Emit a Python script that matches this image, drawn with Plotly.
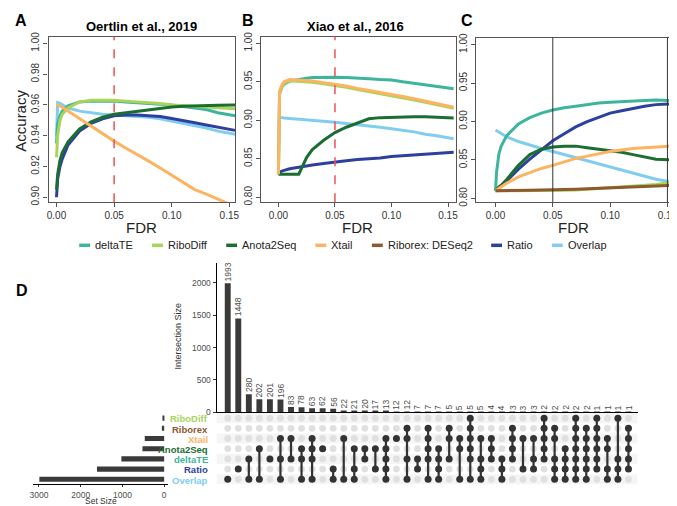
import plotly.graph_objects as go

W, H = 677, 506
FONT = "Liberation Sans, Arial, sans-serif"

# ---------------- data: accuracy vs FDR ----------------
methods = ["deltaTE", "RiboDiff", "Anota2Seq", "Xtail", "Riborex: DESeq2", "Ratio", "Overlap"]
method_colors = ["#3db59c", "#a8d45a", "#1b6e32", "#fdb462", "#8c5a2e", "#2d40a0", "#80cdf0"]

fdr_a = [0, 0.001, 0.003, 0.005, 0.01, 0.02, 0.03, 0.04, 0.05, 0.06, 0.07, 0.08, 0.09, 0.10, 0.11, 0.12, 0.13, 0.14, 0.155]
acc_a_deltaTE = [0.935, 0.948, 0.953, 0.956, 0.9595, 0.962, 0.9625, 0.9625, 0.9625, 0.962, 0.9615, 0.961, 0.9605, 0.960, 0.959, 0.958, 0.957, 0.955, 0.953]
acc_a_RiboDiff = [0.926, 0.940, 0.950, 0.954, 0.958, 0.962, 0.963, 0.963, 0.963, 0.9625, 0.962, 0.9615, 0.961, 0.960, 0.9595, 0.959, 0.9585, 0.958, 0.9575]
acc_a_Anota2Seq = [0.905, 0.915, 0.924, 0.929, 0.936, 0.9445, 0.949, 0.952, 0.954, 0.955, 0.956, 0.957, 0.958, 0.9587, 0.9592, 0.9595, 0.9597, 0.9598, 0.960]
acc_a_Xtail = [0.960, 0.960, 0.9595, 0.9585, 0.956, 0.951, 0.946, 0.941, 0.9365, 0.932, 0.928, 0.9235, 0.919, 0.9145, 0.910, 0.905, 0.902, 0.899, 0.894]
acc_a_Ratio = [0.900, 0.912, 0.920, 0.925, 0.934, 0.943, 0.948, 0.951, 0.953, 0.9535, 0.9535, 0.953, 0.9525, 0.9512, 0.950, 0.9485, 0.947, 0.9455, 0.9435]
acc_a_Overlap = [0.940, 0.9615, 0.961, 0.960, 0.958, 0.956, 0.955, 0.954, 0.9535, 0.953, 0.9525, 0.952, 0.951, 0.9495, 0.948, 0.9465, 0.945, 0.943, 0.941]

fdr_b = [0, 0.001, 0.003, 0.005, 0.01, 0.018, 0.025, 0.03, 0.04, 0.05, 0.06, 0.07, 0.08, 0.09, 0.10, 0.11, 0.12, 0.13, 0.14, 0.155]
acc_b_deltaTE = [0.83, 0.935, 0.943, 0.947, 0.951, 0.9535, 0.9548, 0.9555, 0.956, 0.956, 0.9555, 0.955, 0.954, 0.953, 0.9525, 0.950, 0.948, 0.946, 0.944, 0.941]
acc_b_RiboDiff = [0.83, 0.934, 0.944, 0.948, 0.9515, 0.951, 0.9505, 0.9495, 0.9475, 0.9455, 0.943, 0.940, 0.9375, 0.9345, 0.932, 0.9295, 0.9265, 0.9235, 0.9205, 0.9155]
acc_b_Anota2Seq = [0.83, 0.83, 0.83, 0.83, 0.83, 0.83, 0.852, 0.862, 0.874, 0.884, 0.891, 0.897, 0.902, 0.9035, 0.904, 0.9045, 0.9047, 0.9045, 0.904, 0.903]
acc_b_Xtail = [0.83, 0.938, 0.946, 0.950, 0.953, 0.9525, 0.952, 0.951, 0.949, 0.947, 0.9445, 0.9415, 0.939, 0.936, 0.9335, 0.931, 0.928, 0.925, 0.922, 0.917]
acc_b_Ratio = [0.832, 0.833, 0.834, 0.835, 0.837, 0.839, 0.841, 0.842, 0.844, 0.846, 0.8475, 0.849, 0.850, 0.851, 0.853, 0.854, 0.855, 0.856, 0.857, 0.8585]
acc_b_Overlap = [0.904, 0.904, 0.9035, 0.903, 0.9025, 0.9013, 0.9005, 0.900, 0.899, 0.8975, 0.896, 0.8945, 0.893, 0.891, 0.889, 0.887, 0.885, 0.882, 0.880, 0.876]

fdr_c = [0, 0.001, 0.003, 0.005, 0.01, 0.02, 0.03, 0.04, 0.05, 0.06, 0.07, 0.08, 0.09, 0.10, 0.11, 0.12, 0.13, 0.14, 0.155]
acc_c_deltaTE = [0.81, 0.835, 0.858, 0.868, 0.882, 0.897, 0.905, 0.911, 0.915, 0.918, 0.920, 0.922, 0.924, 0.925, 0.926, 0.927, 0.9275, 0.928, 0.927]
acc_c_RiboDiff = [0.81, 0.81, 0.81, 0.81, 0.81, 0.81, 0.81, 0.81, 0.81, 0.8105, 0.811, 0.812, 0.813, 0.814, 0.815, 0.816, 0.817, 0.818, 0.821]
acc_c_Anota2Seq = [0.81, 0.812, 0.815, 0.817, 0.825, 0.843, 0.857, 0.864, 0.867, 0.868, 0.868, 0.866, 0.864, 0.862, 0.860, 0.857, 0.854, 0.851, 0.850]
acc_c_Xtail = [0.81, 0.811, 0.813, 0.815, 0.820, 0.828, 0.834, 0.839, 0.843, 0.848, 0.852, 0.855, 0.858, 0.861, 0.863, 0.865, 0.866, 0.867, 0.868]
acc_c_Riborex = [0.81, 0.81, 0.81, 0.81, 0.81, 0.8105, 0.8105, 0.811, 0.811, 0.8115, 0.812, 0.8125, 0.813, 0.813, 0.814, 0.8145, 0.815, 0.816, 0.817]
acc_c_Ratio = [0.81, 0.811, 0.814, 0.816, 0.823, 0.838, 0.851, 0.863, 0.875, 0.884, 0.893, 0.900, 0.906, 0.911, 0.914, 0.917, 0.920, 0.922, 0.923]
acc_c_Overlap = [0.889, 0.888, 0.886, 0.884, 0.880, 0.874, 0.869, 0.865, 0.861, 0.857, 0.853, 0.849, 0.845, 0.841, 0.837, 0.833, 0.829, 0.825, 0.821]

panel_titles = ["Oertlin et al., 2019", "Xiao et al., 2016", ""]

# ---------------- data: UpSet ----------------
set_names = ["RiboDiff", "Riborex", "Xtail", "Anota2Seq", "deltaTE", "Ratio", "Overlap"]
set_colors = ["#a8d45a", "#8c5a2e", "#fdb462", "#1b6e32", "#3db59c", "#2d40a0", "#80cdf0"]
set_sizes = [25, 55, 465, 520, 1025, 1610, 2990]

intersection_sizes = [1993, 1448, 280, 202, 201, 196, 83, 78, 63, 62, 56, 22, 21, 20, 17, 13, 12, 12,
                      7, 7, 7, 5, 5, 5, 5, 4, 4, 3, 3, 3, 2, 2, 2, 2, 2, 1, 1, 1, 1]
intersection_members = [
    [6], [5], [4, 6], [3, 6], [4], [2, 4, 6], [2, 4], [3, 4, 6], [2, 3, 4, 6], [3], [5, 6], [2, 6],
    [3, 5, 6], [3, 4], [3, 5], [2, 3, 4, 5, 6], [2], [1, 2, 4, 6], [4, 5], [1, 2, 3, 4, 6], [3, 4, 5, 6],
    [1, 2, 4], [2, 3, 6], [0, 1, 2, 3, 4, 6], [2, 4, 5, 6], [2, 3, 4], [4, 5, 6], [1, 2, 3, 4], [2, 5],
    [2, 4, 5], [0, 1, 2, 3, 4], [1, 2, 4, 5, 6], [3, 4, 5, 6], [0, 1, 2, 3, 4, 5, 6], [1, 2, 3, 4, 5, 6],
    [0, 1, 2, 3, 4, 5], [2, 3, 5, 6], [0, 4, 5, 6], [1, 2, 3, 4, 5],
]

# ---------------- helpers ----------------
def fx(p):
    return p / W

def fy(p):
    return 1 - p / H

fig = go.Figure()

panels = [
    ("x", "y", fdr_a, {"deltaTE": acc_a_deltaTE, "RiboDiff": acc_a_RiboDiff, "Anota2Seq": acc_a_Anota2Seq,
                       "Xtail": acc_a_Xtail, "Ratio": acc_a_Ratio, "Overlap": acc_a_Overlap}),
    ("x2", "y2", fdr_b, {"deltaTE": acc_b_deltaTE, "RiboDiff": acc_b_RiboDiff, "Anota2Seq": acc_b_Anota2Seq,
                         "Xtail": acc_b_Xtail, "Ratio": acc_b_Ratio, "Overlap": acc_b_Overlap}),
    ("x3", "y3", fdr_c, {"deltaTE": acc_c_deltaTE, "RiboDiff": acc_c_RiboDiff, "Anota2Seq": acc_c_Anota2Seq,
                         "Xtail": acc_c_Xtail, "Riborex: DESeq2": acc_c_Riborex, "Ratio": acc_c_Ratio,
                         "Overlap": acc_c_Overlap}),
]
draw_order = ["Overlap", "Ratio", "deltaTE", "RiboDiff", "Anota2Seq", "Xtail", "Riborex: DESeq2"]
for xa, ya, xs, series in panels:
    for m in draw_order:
        if m not in series:
            continue
        fig.add_trace(go.Scatter(x=xs, y=series[m], mode="lines", xaxis=xa, yaxis=ya,
                                 line=dict(color=method_colors[methods.index(m)], width=3),
                                 showlegend=False, hoverinfo="skip"))

# UpSet intersection bars
n_cols = len(intersection_sizes)
col_idx = list(range(n_cols))
fig.add_trace(go.Bar(x=col_idx, y=intersection_sizes, width=0.56, xaxis="x4", yaxis="y4",
                     marker=dict(color="#3a3a3a", line=dict(width=0)),
                     showlegend=False, hoverinfo="skip"))

# Matrix
gx, gy, mx, my, lx, ly = [], [], [], [], [], []
for ci, mem in enumerate(intersection_members):
    for r in range(len(set_names)):
        if r in mem:
            mx.append(ci); my.append(r)
        else:
            gx.append(ci); gy.append(r)
    if len(mem) > 1:
        lx += [ci, ci, None]; ly += [min(mem), max(mem), None]
fig.add_trace(go.Scatter(x=gx, y=gy, mode="markers", xaxis="x5", yaxis="y5",
                         marker=dict(size=6.8, color="#e0e0e0"), showlegend=False, hoverinfo="skip"))
fig.add_trace(go.Scatter(x=lx, y=ly, mode="lines", xaxis="x5", yaxis="y5",
                         line=dict(color="#333333", width=2.2), showlegend=False, hoverinfo="skip"))
fig.add_trace(go.Scatter(x=mx, y=my, mode="markers", xaxis="x5", yaxis="y5",
                         marker=dict(size=7, color="#333333"), showlegend=False, hoverinfo="skip"))

# Set size bars
fig.add_trace(go.Bar(x=set_sizes, y=list(range(len(set_names))), orientation="h", width=0.5,
                     xaxis="x6", yaxis="y6", marker=dict(color="#3a3a3a", line=dict(width=0)),
                     showlegend=False, hoverinfo="skip"))

# ---------------- axes ----------------
tickfont = dict(size=10, color="#333333", family=FONT)
common_line = dict(showline=True, linecolor="#555555", linewidth=1.2, mirror=True, ticks="outside",
                   ticklen=4, tickcolor="#555555", showgrid=False, zeroline=False, tickfont=tickfont)
fdr_ticks = dict(tickvals=[0, 0.05, 0.10, 0.15], ticktext=["0.00", "0.05", "0.10", "0.15"])

layout = dict(
    width=W, height=H, margin=dict(l=0, r=0, t=0, b=0),
    paper_bgcolor="white", plot_bgcolor="white", font=dict(family=FONT),
    showlegend=False,
    xaxis=dict(domain=[fx(37), fx(226)], range=[-0.0069, 0.1552], anchor="y", **fdr_ticks, **common_line),
    yaxis=dict(domain=[fy(193), fy(24)], range=[0.8968, 1.0045], anchor="x",
               tickvals=[0.90, 0.92, 0.94, 0.96, 0.98, 1.00], ticktext=["0.90", "0.92", "0.94", "0.96", "0.98", "1.00"],
               tickangle=-90, **common_line),
    xaxis2=dict(domain=[fx(252), fx(449)], range=[-0.0154, 0.1568], anchor="y2", **fdr_ticks, **common_line),
    yaxis2=dict(domain=[fy(193), fy(24)], range=[0.7936, 1.0089], anchor="x2",
                tickvals=[0.80, 0.85, 0.90, 0.95, 1.00], ticktext=["0.80", "0.85", "0.90", "0.95", "1.00"],
                tickangle=-90, **common_line),
    xaxis3=dict(domain=[fx(470), fx(670)], range=[-0.0166, 0.1558], anchor="y3", **fdr_ticks, **common_line),
    yaxis3=dict(domain=[fy(193), fy(25)], range=[0.7951, 1.0093], anchor="x3",
                tickvals=[0.80, 0.85, 0.90, 0.95, 1.00], ticktext=["0.80", "0.85", "0.90", "0.95", "1.00"],
                tickangle=-90, **common_line),
    xaxis4=dict(domain=[fx(207), fx(633)], range=[-1.06, n_cols - 0.14], anchor="y4", showline=True,
                linecolor="#000000", linewidth=1.2, showticklabels=False, ticks="", showgrid=False, zeroline=False),
    yaxis4=dict(domain=[fy(407.3), fy(255.5)], range=[0, 2300], anchor="x4", showline=True,
                linecolor="#000000", linewidth=1, ticks="outside", ticklen=3, tickcolor="#333333",
                tickvals=[0, 500, 1000, 1500, 2000], showgrid=False, zeroline=False,
                tickfont=dict(size=8.5, color="#4d4d4d", family=FONT)),
    xaxis5=dict(domain=[fx(207), fx(633)], range=[-1.06, n_cols - 0.14], anchor="y5", visible=False),
    yaxis5=dict(domain=[fy(480.9), fy(408.1)], range=[6.5, -0.5], anchor="x5", visible=False),
    xaxis6=dict(domain=[fx(21.7), fx(158.3)], range=[3132, -102], anchor="y6", showline=True,
                linecolor="#000000", linewidth=1, ticks="outside", ticklen=2, tickcolor="#333333",
                tickvals=[0, 1000, 2000, 3000], showgrid=False, zeroline=False,
                tickfont=dict(size=8.5, color="#4d4d4d", family=FONT)),
    yaxis6=dict(domain=[fy(480.9), fy(408.1)], range=[6.5, -0.5], anchor="x6", visible=False),
)
fig.update_layout(**layout)

shapes = []
# row shading in matrix
for r in [0, 2, 4, 6]:
    shapes.append(dict(type="rect", xref="x5", yref="y5", x0=-1.06, x1=n_cols - 0.14, y0=r - 0.5, y1=r + 0.5,
                       fillcolor="rgba(225,225,225,0.35)", line=dict(width=0), layer="below"))
# FDR reference lines
shapes.append(dict(type="line", xref="x", yref="y domain", x0=0.05, x1=0.05, y0=0, y1=1,
                   line=dict(color="#f0504f", width=1.5, dash="dash")))
shapes.append(dict(type="line", xref="x2", yref="y2 domain", x0=0.05, x1=0.05, y0=0, y1=1,
                   line=dict(color="#f0504f", width=1.5, dash="dash")))
for v in [0.05, 0.15]:
    shapes.append(dict(type="line", xref="x3", yref="y3 domain", x0=v, x1=v, y0=0, y1=1,
                       line=dict(color="#333333", width=1)))

annotations = []
def ann(text, x, y, size, color="#000000", xanchor="center", yanchor="middle", angle=0):
    annotations.append(dict(text=text, x=fx(x), y=fy(y), xref="paper", yref="paper", showarrow=False,
                            font=dict(size=size, color=color, family=FONT), xanchor=xanchor,
                            yanchor=yanchor, textangle=angle, borderpad=0))

# bar value labels (rotated), positioned on the bar axes
for ci, v in zip(col_idx, intersection_sizes):
    annotations.append(dict(text=str(v), x=ci, y=v, xref="x4", yref="y4", showarrow=False,
                            textangle=-90, xanchor="center", yanchor="bottom", yshift=1, borderpad=0,
                            font=dict(size=8.5, color="#4d4d4d", family=FONT)))

# legend (manual)
legend_items = [(68, 83), (141.7, 156.7), (216.8, 231.8), (307, 322), (364.2, 379.2), (484.9, 499.9), (546.3, 561.3)]
for (x0, tx), m, c in zip(legend_items, methods, method_colors):
    shapes.append(dict(type="line", xref="paper", yref="paper", x0=fx(x0), x1=fx(x0 + 11),
                       y0=fy(237), y1=fy(237), line=dict(color=c, width=3.5)))
    ann(m, tx, 237, 11, "#222222", xanchor="left")

# panel letters & titles
ann("<b>A</b>", 2, 8, 16, xanchor="left")
ann("<b>B</b>", 232, 8, 16, xanchor="left")
ann("<b>C</b>", 453, 8, 16, xanchor="left")
ann("<b>D</b>", 3, 283, 16, xanchor="left")
ann("<b>" + panel_titles[0] + "</b>", 131, 14, 13)
ann("<b>" + panel_titles[1] + "</b>", 348, 14, 13)
for cx in [131, 350, 568]:
    ann("FDR", cx, 219, 15, "#222222")
ann("Accuracy", 9, 110, 15, "#222222", angle=-90)

# UpSet labels
ann("Intersection Size", 168, 330, 9, "#333333", angle=-90)
ann("Set Size", 90, 497.5, 8.5, "#333333")
row_px = [413.3, 423.7, 434.1, 444.5, 454.9, 465.3, 475.7]
for name, c, ry in zip(set_names, set_colors, row_px):
    ann("<b>" + name + "</b>", 199, ry + 0.8, 9.5, c, xanchor="right")

fig.update_layout(shapes=shapes, annotations=annotations)
fig.write_html("out.html")
